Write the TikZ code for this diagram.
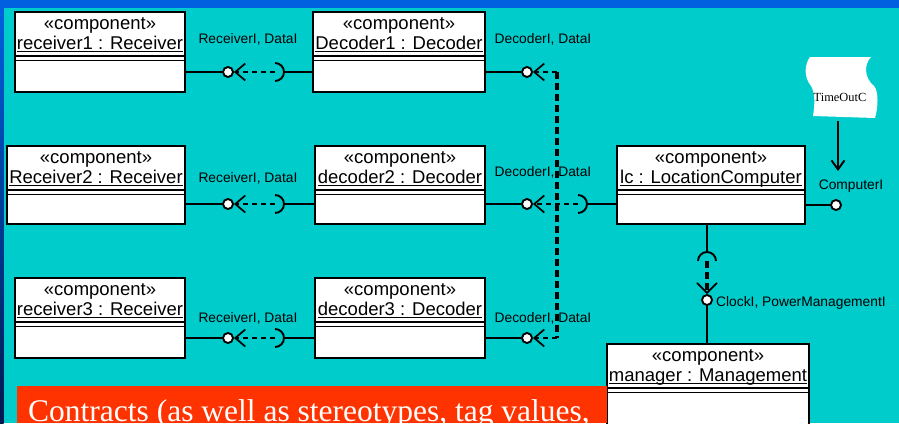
\documentclass[tikz,border=0pt]{standalone}
\usepackage{fontspec}
\setmainfont{Liberation Sans}
\newfontfamily\timesfont{Liberation Serif}
\usepackage{xcolor}
\usetikzlibrary{arrows.meta,positioning}
\definecolor{slidecyan}{RGB}{0,204,204}
\definecolor{slideblue}{RGB}{0,96,224}
\definecolor{slidenavy}{RGB}{0,24,80}
\definecolor{contractred}{RGB}{255,51,0}
\newcommand{\compname}[1]{\setbox0\hbox{#1}\rlap{\rule[-2.6pt]{\wd0}{1.3pt}}\box0}

\begin{document}
\begin{tikzpicture}[x=1pt,y=-1pt,
  comp/.style={draw, line width=1.9pt, fill=white, inner sep=0pt},
  comptext/.style={font=\fontsize{18.5}{20}\selectfont, align=center, anchor=north, inner ysep=6.5pt, inner xsep=0pt},
  conn/.style={line width=1.9pt},
  dep/.style={line width=1.9pt, dash pattern=on 5pt off 4pt, -{Straight Barb[length=10pt,width=17pt,line width=1.7pt]}},
  depthick/.style={line width=3.4pt, dash pattern=on 7pt off 4pt},
  ball/.style={circle, draw, line width=1.9pt, fill=white, minimum size=10pt, inner sep=0pt},
  iflabel/.style={font=\fontsize{13.8}{15}\selectfont, inner sep=1pt}]
    \useasboundingbox (0,0) rectangle (899,423);
    \clip (0,0) rectangle (899,423);
    % Background
    \fill[slidecyan] (0,0) rectangle (899,423);
    \fill[slideblue] (0,0) rectangle (899,7.5);
    \shade[top color=slideblue, bottom color=slidenavy] (0,7.5) rectangle (3.5,423);
    % Components
    \foreach \n/\xa/\ya/\xb/\yb/\t in {
      r1/15/12/185/92/receiver1 : Receiver,
      d1/313/12/485/92/Decoder1 : Decoder,
      r2/7/146/185/224/Receiver2 : Receiver,
      d2/315/146/485/224/decoder2 : Decoder,
      r3/15/278/185/358/receiver3 : Receiver,
      d3/315/278/485/358/decoder3 : Decoder,
      lc/617/146/805/224/lc : LocationComputer,
      mg/607/344/809/440/manager : Management}
    {
      \node[comp, minimum width={(\xb-\xa)*1pt}, minimum height={(\yb-\ya)*1pt}] (\n) at ({(\xa+\xb)/2},{(\ya+\yb)/2}) {};
      \node[comptext] at (\n.north) {«component»\\\compname{\t}};
      \draw[line width=1.5pt] ([yshift=-45pt]\n.north west) -- ([yshift=-45pt]\n.north east)
        ([yshift=-49.5pt]\n.north west) -- ([yshift=-49.5pt]\n.north east);
    }
    % Receiver to decoder
    \foreach \i/\y/\ly in {1/72/39, 2/204/178, 3/338/318} {
      \node[ball] (bl\i) at (228,\y) {};
      \coordinate (sl\i) at (275,\y);
      \draw[conn] (r\i.east |- bl\i) -- (bl\i);
      \draw[dep] (sl\i) -- (bl\i);
      \draw[conn] ([yshift=9pt]sl\i) arc[start angle=90, end angle=-90, radius=9pt];
      \draw[conn] ([xshift=9pt]sl\i) -- (d\i.west |- sl\i);
      \node[iflabel] at (248,\ly) {ReceiverI, DataI};
    }
    % Decoder to location computer
    \foreach \i/\y/\ly in {1/72/39, 2/204/172, 3/338/318} {
      \node[ball] (br\i) at (527,\y) {};
      \draw[conn] (d\i.east |- br\i) -- (br\i);
      \node[iflabel] at (543,\ly) {DecoderI, DataI};
    }
    \coordinate (j1) at (557,72);
    \coordinate (j3) at (557,338);
    \coordinate (sr2) at (578,204);
    \draw[depthick] (j1) -- (j3);
    \draw[dep] (j1) -- (br1);
    \draw[dep] (j3) -- (br3);
    \draw[dep] (sr2) -- (br2);
    \draw[conn] ([yshift=9pt]sr2) arc[start angle=90, end angle=-90, radius=9pt];
    \draw[conn] ([xshift=9pt]sr2) -- (lc.west |- sr2);
    % Location computer to manager
    \coordinate (sm) at (707,261);
    \node[ball] (bm) at (707,300) {};
    \draw[conn] (sm |- lc.south) -- ([yshift=9pt]sm);
    \draw[conn] ([xshift=-9pt]sm) arc[start angle=180, end angle=0, radius=9pt];
    \draw[depthick, -{Straight Barb[length=10pt,width=20pt,line width=1.7pt]}] (sm) -- (bm);
    \draw[conn] (bm) -- (bm |- mg.north);
    \node[iflabel, anchor=west] (cl) at (715,303) {ClockI, PowerManagementI};
    % Computer interface and timeout
    \node[ball] (bc) at (836,205) {};
    \draw[conn] (lc.east |- bc) -- (bc);
    \node[iflabel] (ci) at (851,186) {ComputerI};
    \fill[white] (810,57) -- (871,57)
      .. controls (864,64) and (864,78) .. (874,86)
      .. controls (879,92) and (878,108) .. (875,118)
      -- (813,116)
      .. controls (815,104) and (815,92) .. (811,86)
      .. controls (803,76) and (805,64) .. (810,57) -- cycle;
    \node[font=\timesfont\fontsize{12.4}{14}\selectfont, inner sep=1pt] (toc) at (840,97) {TimeOutC};
    \coordinate (tb) at (838,121);
    \coordinate (ta) at (838,171);
    \draw[conn, -{Straight Barb[length=9pt,width=13pt]}] (tb) -- (ta);
    % Contract note
    \fill[contractred] (17,386) rectangle (607,423);
    \node[anchor=base west, text=white, inner sep=0pt, font=\timesfont\fontsize{31.5}{34}\selectfont] (ct) at (28,421) {Contracts (as well as stereotypes, tag values,};
\end{tikzpicture}
\end{document}
